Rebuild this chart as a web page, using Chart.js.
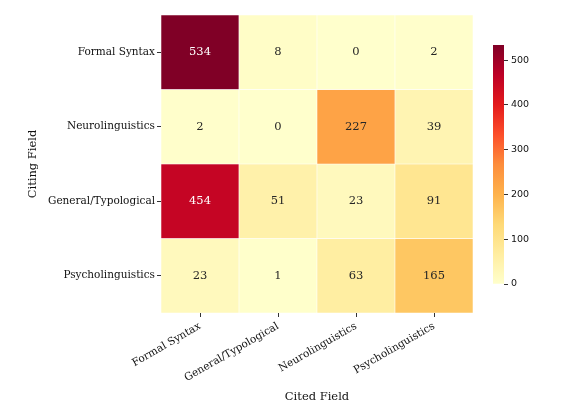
<!DOCTYPE html>
<html><head><meta charset="utf-8">
<script src="https://cdn.jsdelivr.net/npm/chart.js@4"></script>
<style>
html,body{margin:0;padding:0;background:#fff;}
#wrap{position:relative;width:582px;height:413px;background:#fff;}
#main{position:absolute;left:0;top:0;}
#cb{position:absolute;left:480px;top:0;}
</style></head><body>
<div id="wrap">
<canvas id="main" width="582" height="413"></canvas>
<canvas id="cb" width="102" height="413"></canvas>
</div>
<script>
// ---- data ----
const citingFields = ['Formal Syntax', 'Neurolinguistics', 'General/Typological', 'Psycholinguistics'];
const citedFields = ['Formal Syntax', 'General/Typological', 'Neurolinguistics', 'Psycholinguistics'];
const formalSyntaxRow = [534, 8, 0, 2];
const neuroRow = [2, 0, 227, 39];
const generalRow = [454, 51, 23, 91];
const psychoRow = [23, 1, 63, 165];
const colorbarTicks = [0, 100, 200, 300, 400, 500];
const vmin = 0, vmax = 534;

const rows = [formalSyntaxRow, neuroRow, generalRow, psychoRow];

// ---- YlOrRd colormap ----
const stops = ['#ffffcc','#ffeda0','#fed976','#feb24c','#fd8d3c','#fc4e2a','#e31a1c','#bd0026','#800026'];
function hex2rgb(h){return [parseInt(h.substr(1,2),16),parseInt(h.substr(3,2),16),parseInt(h.substr(5,2),16)];}
const stopRgb = stops.map(hex2rgb);
function cmapRgb(t){
  t = Math.max(0, Math.min(1, t));
  const p = t * (stops.length - 1);
  const i = Math.min(Math.floor(p), stops.length - 2);
  const f = p - i;
  const a = stopRgb[i], b = stopRgb[i+1];
  return [0,1,2].map(k => Math.round(a[k] + (b[k]-a[k])*f));
}
function cmap(v){const c = cmapRgb((v - vmin)/(vmax - vmin)); return `rgb(${c[0]},${c[1]},${c[2]})`;}
function lum(v){
  const c = cmapRgb((v - vmin)/(vmax - vmin)).map(x => {x/=255; return x <= 0.03928 ? x/12.92 : Math.pow((x+0.055)/1.055, 2.4);});
  return 0.2126*c[0] + 0.7152*c[1] + 0.0722*c[2];
}

const serif = 'DejaVu Serif';
const textColor = '#111111';

const annotPlugin = {
  id: 'annot',
  afterDatasetsDraw(chart){
    const ctx = chart.ctx;
    ctx.save();
    ctx.font = `11.5px "${serif}"`;
    ctx.textAlign = 'center';
    ctx.textBaseline = 'middle';
    chart.data.datasets.forEach((ds, r) => {
      const meta = chart.getDatasetMeta(r);
      meta.data.forEach((el, c) => {
        const v = rows[r][c];
        const p = el.getCenterPoint();
        ctx.fillStyle = lum(v) > 0.408 ? '#262626' : '#ffffff';
        ctx.fillText(String(v), p.x, p.y);
      });
    });
    ctx.restore();
  }
};

const datasets = rows.map((row, r) => ({
  label: citingFields[r],
  data: row.map(() => [r - 0.5, r + 0.5]),
  backgroundColor: row.map(v => cmap(v)),
  borderColor: '#ffffff',
  borderWidth: 0.6,
  borderSkipped: false,
  barPercentage: 1,
  categoryPercentage: 1,
  grouped: false
}));

new Chart(document.getElementById('main'), {
  type: 'bar',
  data: { labels: citedFields, datasets },
  plugins: [annotPlugin],
  options: {
    responsive: false,
    animation: false,
    layout: { padding: { top: 15, right: 109, bottom: 0, left: 0 } },
    plugins: { legend: { display: false }, tooltip: { enabled: false } },
    scales: {
      x: {
        type: 'category',
        grid: { offset: false, drawOnChartArea: false, drawTicks: true, tickLength: 4, tickColor: '#333', tickWidth: 1 },
        border: { display: false },
        ticks: { minRotation: 30, maxRotation: 30, autoSkip: false, padding: 3, color: textColor, font: { family: serif, size: 10.5 } },
        title: { display: true, text: 'Cited Field', color: textColor, font: { family: serif, size: 11.5 }, padding: { top: 0, bottom: 9 } },
        afterFit(s){ s.height = 100; }
      },
      y: {
        type: 'linear',
        min: -0.5, max: 3.5, reverse: true,
        afterBuildTicks(s){ s.ticks = citingFields.map((_, i) => ({ value: i })); },
        grid: { drawOnChartArea: false, drawTicks: true, tickLength: 4, tickColor: '#333', tickWidth: 1 },
        border: { display: false },
        ticks: { padding: 2, color: textColor, font: { family: serif, size: 10.5 }, callback: (v) => citingFields[v] },
        title: { display: true, text: 'Citing Field', color: textColor, font: { family: serif, size: 11.5 }, padding: { top: 26, bottom: 0 } },
        afterFit(s){ s.width = 161; }
      }
    }
  }
});

// ---- colorbar ----
new Chart(document.getElementById('cb'), {
  type: 'bar',
  data: {
    labels: [''],
    datasets: [{
      data: [[vmin, vmax]],
      backgroundColor: (ctx) => {
        const a = ctx.chart.chartArea;
        if (!a) return stops[0];
        const g = ctx.chart.ctx.createLinearGradient(0, a.bottom, 0, a.top);
        stops.forEach((s, i) => g.addColorStop(i / (stops.length - 1), s));
        return g;
      },
      borderWidth: 0,
      barPercentage: 1,
      categoryPercentage: 1
    }]
  },
  options: {
    responsive: false,
    animation: false,
    layout: { padding: { top: 45, right: 0, bottom: 129, left: 13 } },
    plugins: { legend: { display: false }, tooltip: { enabled: false } },
    scales: {
      x: { display: false },
      y: {
        position: 'right',
        min: vmin, max: vmax,
        afterBuildTicks(s){ s.ticks = colorbarTicks.map(v => ({ value: v })); },
        grid: { drawOnChartArea: false, drawTicks: true, tickLength: 4, tickColor: '#333', tickWidth: 1 },
        border: { display: false },
        ticks: { padding: 3, color: textColor, font: { family: 'DejaVu Sans', size: 9.5 } },
        afterFit(s){ s.width = 78; }
      }
    }
  }
});
</script>
</body></html>
